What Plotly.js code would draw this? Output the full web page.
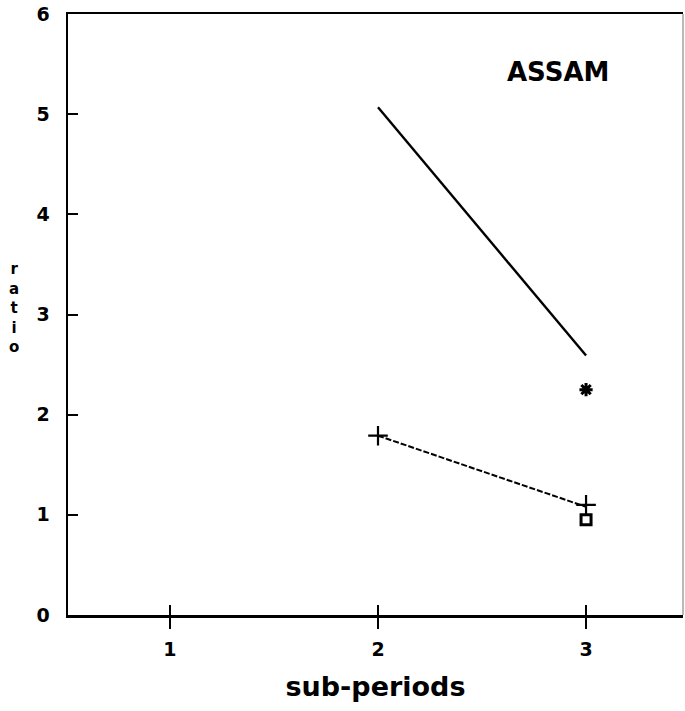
<!DOCTYPE html>
<html>
<head>
<meta charset="utf-8">
<script src="https://cdn.plot.ly/plotly-3.0.1.min.js"></script>
<style>html,body{margin:0;padding:0;background:#fff;}#chart{width:685px;height:711px;}</style>
</head>
<body>
<div id="chart"></div>
<script>
// data
var subPeriods = [2, 3];
var seriesSolid = [5.07, 2.59];
var seriesDashed = [1.79, 1.08];
var plusX = [2, 3];
var plusY = [1.79, 1.1];
var starX = [3];
var starY = [2.25];
var circleX = [3];
var circleY = [0.95];
var xTickVals = [1, 2, 3];
var xTickText = ['1', '2', '3'];
var yTickVals = [0, 1, 2, 3, 4, 5, 6];
var yTickText = ['0', '1', '2', '3', '4', '5', '6'];

var fontFam = '"DejaVu Sans", "Liberation Sans", Arial, sans-serif';

var traces = [
  {x: subPeriods, y: seriesSolid, mode: 'lines', line: {color: '#000', width: 2.4}, hoverinfo: 'none'},
  {x: subPeriods, y: seriesDashed, mode: 'lines', line: {color: '#000', width: 2, dash: '6px,2px'}, hoverinfo: 'none'},
  {x: plusX, y: plusY, mode: 'markers', marker: {symbol: 'cross-thin-open', size: 14, color: '#000', line: {color: '#000', width: 2.2}}, hoverinfo: 'none'},
  {x: starX, y: starY, mode: 'markers', marker: {symbol: 'asterisk-open', size: 11, color: '#000', line: {color: '#000', width: 3}}, hoverinfo: 'none'},
  {x: circleX, y: circleY, mode: 'markers', marker: {symbol: 'square-open', size: 10, color: '#000', line: {color: '#000', width: 3}}, hoverinfo: 'none'},
  {x: [], y: [], xaxis: 'x2', yaxis: 'y', hoverinfo: 'none'}
];

var xr = [0.51, 3.466];

var layout = {
  width: 685, height: 711,
  margin: {l: 68, r: 2, t: 14, b: 96},
  showlegend: false,
  paper_bgcolor: '#fff', plot_bgcolor: '#fff',
  font: {family: fontFam, color: '#000'},
  xaxis: {
    range: xr, showgrid: false, zeroline: false,
    showline: true, linecolor: '#000', linewidth: 2.5, mirror: true,
    ticks: 'outside', ticklen: 11, tickwidth: 2, tickcolor: '#000',
    tickvals: xTickVals, ticktext: xTickText,
    tickfont: {family: fontFam, size: 19, weight: 'bold'},
    ticklabelstandoff: 5,
    title: {text: 'sub-periods', font: {family: fontFam, size: 27, weight: 'bold'}, standoff: 18}
  },
  xaxis2: {
    overlaying: 'x', anchor: 'y', side: 'bottom',
    range: xr, showgrid: false, zeroline: false, showline: false,
    ticks: 'inside', ticklen: 10, tickwidth: 2, tickcolor: '#000',
    tickvals: xTickVals, showticklabels: false
  },
  yaxis: {
    range: [0, 6], showgrid: false, zeroline: false,
    showline: true, linecolor: '#000', linewidth: 2.5,
    ticks: 'inside', ticklen: 10, tickwidth: 2, tickcolor: '#000',
    tickvals: yTickVals, ticktext: yTickText,
    tickfont: {family: fontFam, size: 19, weight: 'bold'},
    ticklabelstandoff: 12
  },
  shapes: [
    {type: 'line', xref: 'paper', yref: 'paper', x0: 1, x1: 1, y0: 0, y1: 1, line: {color: '#777', width: 1}}
  ],
  annotations: [
    {text: 'ASSAM', xref: 'paper', yref: 'paper', x: 0.797, y: 0.903, showarrow: false,
     font: {family: fontFam, size: 26, weight: 'bold'}, xanchor: 'center', yanchor: 'middle'},
    {text: 'r<br>a<br>t<br>i<br>o', xref: 'paper', yref: 'paper', x: -0.087, y: 0.51, showarrow: false,
     font: {family: fontFam, size: 15, weight: 'bold'}, xanchor: 'center', yanchor: 'middle', align: 'center'}
  ]
};

Plotly.newPlot('chart', traces, layout, {displayModeBar: false, staticPlot: true});
</script>
</body>
</html>
